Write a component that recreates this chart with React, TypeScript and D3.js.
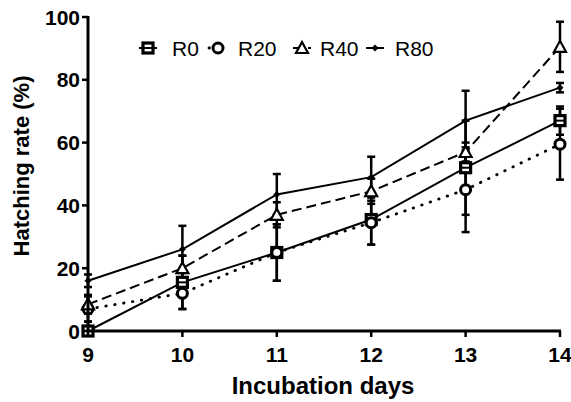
import React from "react";
import * as d3 from "d3";

const days = [9, 10, 11, 12, 13, 14];
const r0 = [0, 15.5, 25, 35.5, 52, 67];
const r0Err = [3, 8.5, 9, 8, 15, 4.5];
const r20 = [7, 12, 25, 34.5, 45, 59.5];
const r20Err = [4, 5, 9, 7, 13.5, 11.3];
const r40 = [8.5, 20, 37, 44.5, 57, 90.5];
const r40Err = [3, 4, 4, 4, 3, 8];
const r80 = [16, 26, 43.5, 49, 67, 77.5];
const r80Err = [2, 7.5, 6.5, 6.5, 9.5, 1.5];
const yTicks = [0, 20, 40, 60, 80, 100];
const seriesNames = ["R0", "R20", "R40", "R80"];

type Series = { name: string; values: number[]; err: number[]; dash: string; marker: string };

const DOT = "0.5,8.5";

const series: Series[] = [
  { name: seriesNames[0], values: r0, err: r0Err, dash: "", marker: "square" },
  { name: seriesNames[1], values: r20, err: r20Err, dash: DOT, marker: "circle" },
  { name: seriesNames[2], values: r40, err: r40Err, dash: "10,5", marker: "triangle" },
  { name: seriesNames[3], values: r80, err: r80Err, dash: "", marker: "diamond" },
];

const Marker = ({ type, x, y }: { type: string; x: number; y: number }) => {
  if (type === "square")
    return (
      <g>
        <rect x={x - 5} y={y - 5} width={10} height={10} fill="#fff" stroke="#000" strokeWidth={3.2} />
        <line x1={x - 5} x2={x + 5} y1={y} y2={y} stroke="#000" strokeWidth={2} />
      </g>
    );
  if (type === "circle")
    return <circle cx={x} cy={y} r={5} fill="#fff" stroke="#000" strokeWidth={3} />;
  if (type === "triangle")
    return (
      <path
        d={`M${x},${y - 6}L${x + 6},${y + 5}L${x - 6},${y + 5}Z`}
        fill="#fff"
        stroke="#000"
        strokeWidth={2.2}
      />
    );
  return <path d={`M${x},${y - 3.5}L${x + 3.5},${y}L${x},${y + 3.5}L${x - 3.5},${y}Z`} fill="#000" />;
};

export default function App() {
  const width = 571;
  const height = 402;
  const x = d3.scaleLinear().domain([9, 14]).range([88, 560]);
  const y = d3.scaleLinear().domain([0, 100]).range([331, 17]);
  const line = d3
    .line<number>()
    .x((_, i) => x(days[i]))
    .y((d) => y(d));

  const font = "Arial, 'Liberation Sans', sans-serif";
  const legendX = [148, 218, 302, 375];
  const legendTextX = [172, 238, 320, 395];

  return (
    <svg width={width} height={height} style={{ position: "absolute", left: 0, top: 0 }} fontFamily={font}>
      {/* series lines */}
      {series.map((s) => (
        <path
          key={s.name + "l"}
          d={line(s.values) || ""}
          fill="none"
          stroke="#000"
          strokeWidth={s.dash === DOT ? 2.8 : 2}
          strokeDasharray={s.dash}
          strokeLinecap={s.dash === DOT ? "round" : "butt"}
        />
      ))}
      {/* error bars */}
      {series.map((s) =>
        s.values.map((v, i) => (
          <g key={s.name + "e" + i} stroke="#000" strokeWidth={2.5}>
            <line x1={x(days[i])} x2={x(days[i])} y1={y(Math.max(0, v - s.err[i]))} y2={y(v + s.err[i])} />
            <line x1={x(days[i]) - 4} x2={x(days[i]) + 4} y1={y(v + s.err[i])} y2={y(v + s.err[i])} />
            {v - s.err[i] >= 0 ? (
              <line x1={x(days[i]) - 4} x2={x(days[i]) + 4} y1={y(v - s.err[i])} y2={y(v - s.err[i])} />
            ) : null}
          </g>
        ))
      )}
      {series.map((s) =>
        s.values.map((v, i) => <Marker key={s.name + "m" + i} type={s.marker} x={x(days[i])} y={y(v)} />)
      )}
      {/* axes */}
      <line x1={88} x2={88} y1={y(100) - 1} y2={y(0) + 1.5} stroke="#000" strokeWidth={3} />
      <line x1={86.5} x2={x(14) + 1} y1={y(0)} y2={y(0)} stroke="#000" strokeWidth={3} />
      {yTicks.map((t) => (
        <g key={"y" + t}>
          <line x1={82} x2={88} y1={y(t)} y2={y(t)} stroke="#000" strokeWidth={2.5} />
          <text x={80} y={y(t)} dy="0.36em" textAnchor="end" fontSize={21} fontWeight="bold">
            {t}
          </text>
        </g>
      ))}
      {days.map((d) => (
        <g key={"x" + d}>
          <line x1={x(d)} x2={x(d)} y1={y(0)} y2={y(0) + 6} stroke="#000" strokeWidth={2.5} />
          <text x={x(d)} y={y(0) + 31} textAnchor="middle" fontSize={21} fontWeight="bold">
            {d}
          </text>
        </g>
      ))}
      <text x={323} y={394} textAnchor="middle" fontSize={24} fontWeight="bold">
        Incubation days
      </text>
      <text
        transform={`translate(29,166) rotate(-90)`}
        textAnchor="middle"
        fontSize={22}
        fontWeight="bold"
      >
        Hatching rate (%)
      </text>
      {/* legend */}
      {series.map((s, i) => (
        <g key={s.name + "lg"}>
          <line
            x1={legendX[i] - 9}
            x2={legendX[i] + 9}
            y1={48}
            y2={48}
            stroke="#000"
            strokeWidth={s.dash === DOT ? 2.8 : 2}
            strokeDasharray={s.dash}
            strokeLinecap={s.dash === DOT ? "round" : "butt"}
          />
          <Marker type={s.marker} x={legendX[i]} y={48} />
          <text x={legendTextX[i]} y={48} dy="0.36em" fontSize={21}>
            {s.name}
          </text>
        </g>
      ))}
    </svg>
  );
}
